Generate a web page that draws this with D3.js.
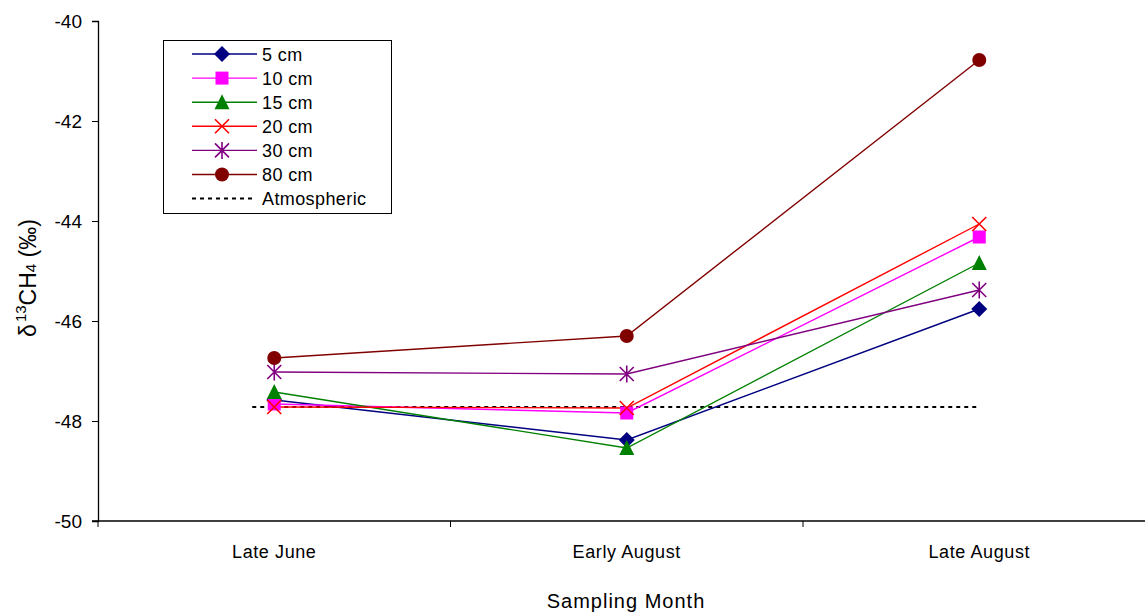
<!DOCTYPE html>
<html lang="en">
<head>
  <meta charset="UTF-8">
  <title>d13CH4 by depth</title>
  <script src="https://cdn.jsdelivr.net/npm/d3@7"></script>
  <style>
    body { margin: 0; background: #fff; }
    svg text { font-family: Arial, "Liberation Sans", sans-serif; fill: #000; }
  </style>
</head>
<body>
  <svg id="chart"></svg>
  <script>
    // data
    const months = ['Late June', 'Early August', 'Late August'];
    const depths = ['5 cm', '10 cm', '15 cm', '20 cm', '30 cm', '80 cm'];
    const v5  = [-47.58, -48.38, -45.76];
    const v10 = [-47.66, -47.84, -44.32];
    const v15 = [-47.42, -48.54, -44.84];
    const v20 = [-47.72, -47.74, -44.06];
    const v30 = [-47.02, -47.06, -45.38];
    const v80 = [-46.74, -46.30, -40.78];
    const atmospheric = -47.72;
    const yTicks = [-50, -48, -46, -44, -42, -40];

    const seriesVals = [v5, v10, v15, v20, v30, v80];
    const colors = ['#000080', '#ff00ff', '#008000', '#ff0000', '#800080', '#800000'];
    const shapes = ['diamond', 'square', 'triangle', 'x', 'star', 'circle'];

    const width = 1145, height = 614;
    const svg = d3.select('#chart').attr('width', width).attr('height', height);

    const x = d3.scaleBand().domain(months).range([98, 1155.5]);
    const y = d3.scaleLinear().domain([-50, -40]).range([521, 21]);
    const cx = d => x(d) + x.bandwidth() / 2;

    // y axis
    const yAxis = svg.append('g').attr('transform', 'translate(98,0)')
      .call(d3.axisLeft(y).tickValues(yTicks).tickSize(6).tickFormat(d => String(d)));
    yAxis.select('.domain').attr('stroke', '#000').attr('stroke-width', 1.3);
    yAxis.selectAll('.tick line').attr('stroke', '#000');
    yAxis.selectAll('.tick text').attr('font-size', 19).attr('x', -16).attr('dy', '0.34em');

    // x axis, ticks sit on the band edges
    const xg = svg.append('g');
    xg.append('line').attr('x1', 92).attr('x2', 1145).attr('y1', 521).attr('y2', 521)
      .attr('stroke', '#000').attr('stroke-width', 1.3);
    const edges = months.map(m => x(m));
    xg.selectAll('.xt').data(edges).enter().append('line')
      .attr('x1', d => d).attr('x2', d => d).attr('y1', 521).attr('y2', 527)
      .attr('stroke', '#000');
    xg.selectAll('.xl').data(months).enter().append('text')
      .attr('x', d => cx(d)).attr('y', 558).attr('text-anchor', 'middle')
      .attr('font-size', 18).attr('letter-spacing', 0.6).text(d => d);

    svg.append('text').attr('x', 626).attr('y', 608).attr('text-anchor', 'middle')
      .attr('font-size', 20).attr('letter-spacing', 1).text('Sampling Month');

    const yl = svg.append('text').attr('transform', 'translate(36,278) rotate(-90)')
      .attr('text-anchor', 'middle').attr('font-size', 23);
    yl.append('tspan').text('δ');
    yl.append('tspan').attr('font-size', 15).attr('dy', -10).attr('dx', 2).text('13');
    yl.append('tspan').attr('dy', 10).text('CH');
    yl.append('tspan').attr('font-size', 15).text('4');
    yl.append('tspan').text(' (‰)');

    // atmospheric reference
    svg.append('line')
      .attr('x1', cx(months[0]) - 22).attr('x2', cx(months[2]))
      .attr('y1', y(atmospheric)).attr('y2', y(atmospheric))
      .attr('stroke', '#000').attr('stroke-width', 2).attr('stroke-dasharray', '4,4');

    function marker(g, shape, color) {
      if (shape === 'diamond') {
        g.append('path').attr('d', 'M0,-8L8,0L0,8L-8,0Z').attr('fill', color);
      } else if (shape === 'square') {
        g.append('rect').attr('x', -6.5).attr('y', -6.5).attr('width', 13).attr('height', 13).attr('fill', color);
      } else if (shape === 'triangle') {
        g.append('path').attr('d', 'M0,-8L7.5,7L-7.5,7Z').attr('fill', color);
      } else if (shape === 'x') {
        g.append('path').attr('d', 'M-7,-7L7,7M7,-7L-7,7').attr('stroke', color).attr('stroke-width', 1.6);
      } else if (shape === 'star') {
        g.append('path').attr('d', 'M-7,-7L7,7M7,-7L-7,7M0,-8.5L0,8.5').attr('stroke', color).attr('stroke-width', 1.6);
      } else {
        g.append('circle').attr('r', 7).attr('fill', color);
      }
    }

    const line = d3.line().x(d => cx(d.m)).y(d => y(d.v));
    seriesVals.forEach((vals, i) => {
      const pts = vals.map((v, k) => ({ m: months[k], v: v }));
      svg.append('path').datum(pts).attr('d', line)
        .attr('fill', 'none').attr('stroke', colors[i]).attr('stroke-width', 1.4);
    });
    seriesVals.forEach((vals, i) => {
      vals.forEach((v, k) => {
        const g = svg.append('g').attr('transform', `translate(${cx(months[k])},${y(v)})`);
        marker(g, shapes[i], colors[i]);
      });
    });

    // legend
    const lg = svg.append('g');
    lg.append('rect').attr('x', 163.5).attr('y', 40.5).attr('width', 228).attr('height', 173)
      .attr('fill', '#fff').attr('stroke', '#000');
    const rowY = d3.range(7).map(i => 54 + i * 24.1);
    depths.forEach((d, i) => {
      const row = lg.append('g').attr('transform', `translate(0,${rowY[i]})`);
      row.append('line').attr('x1', 192).attr('x2', 257).attr('stroke', colors[i]).attr('stroke-width', 1.4);
      marker(row.append('g').attr('transform', 'translate(222,0)'), shapes[i], colors[i]);
      row.append('text').attr('x', 262).attr('y', 6.5).attr('font-size', 18)
        .attr('letter-spacing', 0.4).text(d);
    });
    const ar = lg.append('g').attr('transform', `translate(0,${rowY[6]})`);
    ar.append('line').attr('x1', 192).attr('x2', 252).attr('stroke', '#000')
      .attr('stroke-width', 2).attr('stroke-dasharray', '4,4');
    ar.append('text').attr('x', 262).attr('y', 6.5).attr('font-size', 18)
      .attr('letter-spacing', 0.4).text('Atmospheric');
  </script>
</body>
</html>
